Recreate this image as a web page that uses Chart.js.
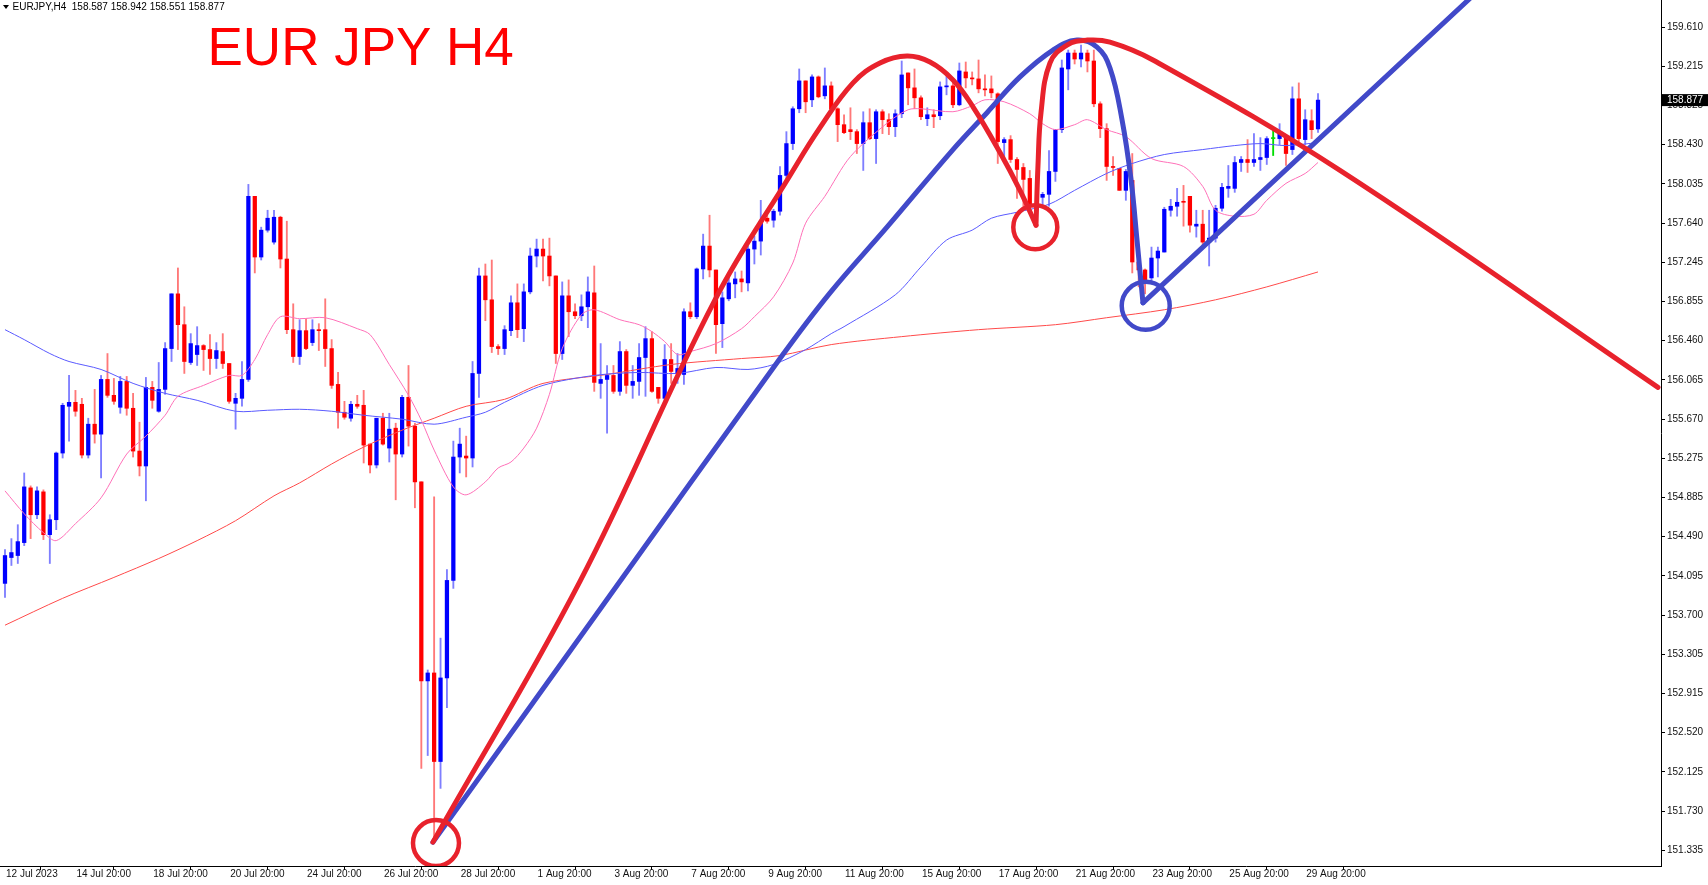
<!DOCTYPE html>
<html>
<head>
<meta charset="utf-8">
<title>EURJPY H4</title>
<script src="https://cdn.jsdelivr.net/npm/chart.js@4.4.1/dist/chart.umd.min.js"></script>
<style>
  html, body { margin: 0; padding: 0; background: #fff; }
  #wrap { width: 1708px; height: 885px; position: relative; }
</style>
</head>
<body>
<div id="wrap"><canvas id="grafico"></canvas></div>
<script>
// H4 candles, one entry per bar (bar 0 = first visible bar)
const openPrices = [
  154.02,154.28,154.30,154.43,154.98,154.71,154.94,154.51,154.66,155.33,
  155.80,155.84,155.82,155.31,155.62,155.52,156.07,155.91,155.79,156.05,
  155.78,155.35,155.20,155.99,155.75,155.97,156.38,156.93,156.62,156.24,
  156.32,156.41,156.37,156.28,156.35,156.23,155.83,155.88,156.07,157.91,
  157.30,157.57,157.45,157.70,157.28,156.57,156.30,156.56,156.44,156.57,
  156.57,156.38,156.02,155.74,155.68,155.82,155.81,155.42,155.21,155.68,
  155.38,155.58,155.32,155.89,155.60,155.04,153.04,153.12,152.23,153.07,
  154.05,155.29,155.30,155.28,156.13,157.11,156.87,156.40,156.38,156.56,
  156.84,156.58,156.95,157.31,157.38,157.31,157.11,156.33,156.91,156.75,
  156.71,156.80,156.94,156.03,156.07,156.11,155.95,156.35,156.01,156.05,
  156.29,156.48,155.99,155.88,156.27,156.13,156.12,156.75,156.70,157.18,
  157.41,157.17,156.63,156.88,157.03,157.08,157.04,157.38,157.46,157.69,
  157.67,157.76,158.12,158.44,158.79,159.07,158.88,159.11,158.92,159.02,
  158.79,158.63,158.58,158.56,158.44,158.65,158.49,158.76,158.68,158.61,
  158.74,159.15,159.00,158.90,158.69,158.73,158.72,159.01,159.02,158.83,
  159.16,159.10,159.09,158.99,158.99,158.94,158.45,158.48,158.28,158.20,
  158.09,157.81,157.90,157.93,158.16,158.58,159.19,159.35,159.29,159.35,
  159.27,158.84,158.59,158.21,158.19,157.97,158.07,157.25,157.17,157.09,
  157.29,157.35,157.77,157.81,157.86,157.91,157.61,157.63,157.45,157.49,
  157.79,157.99,157.99,158.25,158.28,158.25,158.28,158.30,158.49,158.49,
  158.51,158.38,158.89,158.48,158.67,158.587
];
const highPrices = [
  154.36,154.47,154.61,155.13,155.00,154.99,154.96,154.71,155.34,155.83,
  156.11,155.96,155.88,155.68,155.97,156.11,156.33,156.08,156.10,156.10,
  155.93,155.64,156.09,156.05,156.24,156.44,156.93,157.19,156.80,156.53,
  156.60,156.42,156.52,156.44,156.53,156.23,155.93,156.25,158.03,157.91,
  157.60,157.77,157.77,157.71,157.66,156.83,156.67,156.68,156.67,156.63,
  156.88,156.47,156.14,155.85,155.85,155.91,155.96,155.42,155.68,155.73,
  155.73,155.63,155.91,156.21,155.63,155.04,153.15,154.89,153.47,154.16,
  155.45,155.58,155.50,156.25,157.19,157.23,157.27,156.42,156.61,156.91,
  157.03,157.03,157.39,157.48,157.48,157.49,157.11,157.05,157.07,156.83,
  156.92,157.10,157.21,156.43,156.21,156.21,156.45,156.37,156.21,156.43,
  156.60,156.55,155.99,156.42,156.43,156.33,156.78,156.84,157.19,157.53,
  157.72,157.17,156.95,157.13,157.15,157.16,157.41,157.51,157.87,157.72,
  157.78,158.21,158.56,158.81,159.19,159.07,159.13,159.12,159.20,159.06,
  158.80,158.73,158.80,158.58,158.76,158.79,158.78,158.78,158.74,158.78,
  159.27,159.15,159.19,158.92,158.80,158.78,159.06,159.15,159.07,159.25,
  159.26,159.16,159.28,159.13,159.12,158.95,158.50,158.52,158.30,158.24,
  158.17,157.92,157.95,158.37,158.58,159.28,159.38,159.38,159.43,159.38,
  159.38,158.86,158.64,158.31,158.19,158.18,158.34,157.26,157.18,157.40,
  157.40,157.80,157.88,157.99,158.02,157.91,157.77,157.77,157.77,157.82,
  158.04,158.22,158.31,158.31,158.48,158.54,158.50,158.51,158.58,158.64,
  158.51,159.01,159.05,158.78,158.78,158.942
];
const lowPrices = [
  153.88,154.20,154.22,154.40,154.47,154.67,154.46,154.22,154.56,155.28,
  155.45,155.70,155.28,155.28,155.43,155.08,155.89,155.82,155.73,155.71,
  155.29,155.10,154.85,155.78,155.74,155.92,156.25,156.37,156.13,156.22,
  156.21,156.16,156.12,156.18,156.18,155.83,155.57,155.80,156.05,157.14,
  157.27,157.55,157.43,157.19,156.53,156.24,156.22,156.37,156.41,156.36,
  156.20,155.98,155.58,155.67,155.65,155.78,155.23,155.13,155.18,155.41,
  155.24,154.86,155.29,155.40,154.78,152.16,152.29,151.42,151.96,152.77,
  153.97,155.13,155.09,155.19,155.89,156.66,156.34,156.32,156.32,156.51,
  156.49,156.45,156.93,157.20,157.06,157.01,156.23,156.27,156.50,156.68,
  156.66,156.59,155.95,155.88,155.53,155.93,155.91,155.93,155.88,155.91,
  155.90,155.94,155.83,155.81,156.03,156.03,156.02,156.68,156.68,157.08,
  157.10,156.33,156.39,156.86,156.89,156.95,156.96,157.23,157.32,157.64,
  157.60,157.72,158.05,158.38,158.75,158.75,158.81,158.90,158.89,158.76,
  158.46,158.54,158.48,158.34,158.17,158.48,158.24,158.54,158.53,158.51,
  158.70,158.83,158.79,158.68,158.62,158.60,158.68,158.93,158.80,158.82,
  159.00,159.03,158.95,158.92,158.90,158.24,158.28,158.25,157.89,157.81,
  157.76,157.70,157.82,157.81,158.06,158.55,158.98,159.24,159.21,159.16,
  158.81,158.50,158.07,158.12,157.97,157.87,157.14,157.00,156.93,157.05,
  157.10,157.35,157.71,157.71,157.61,157.55,157.50,157.40,157.21,157.45,
  157.76,157.90,157.95,158.16,158.15,158.21,158.17,158.23,158.32,158.43,
  158.22,158.33,158.41,158.43,158.49,158.551
];
const closePrices = [
  154.30,154.33,154.44,154.99,154.71,154.95,154.51,154.66,155.33,155.81,
  155.84,155.75,155.31,155.62,155.52,156.07,155.91,155.85,156.05,155.78,
  155.35,155.20,155.99,155.86,155.97,156.38,156.93,156.62,156.25,156.43,
  156.41,156.37,156.28,156.36,156.23,155.85,155.88,156.07,157.91,157.30,
  157.57,157.69,157.70,157.28,156.57,156.30,156.56,156.38,156.57,156.56,
  156.38,156.01,155.74,155.69,155.82,155.80,155.41,155.21,155.68,155.42,
  155.57,155.32,155.89,155.60,155.04,153.04,153.12,152.23,153.07,154.05,
  155.29,155.42,155.28,156.13,157.11,156.87,156.40,156.38,156.57,156.84,
  156.57,156.95,157.31,157.38,157.31,157.11,156.33,156.91,156.75,156.71,
  156.80,156.95,156.04,156.07,156.11,155.95,156.35,156.01,156.05,156.29,
  156.48,155.95,155.88,156.27,156.15,156.18,156.75,156.70,157.18,157.41,
  157.17,156.62,156.89,157.04,157.08,157.05,157.38,157.46,157.66,157.66,
  157.76,158.12,158.44,158.79,159.07,158.86,159.11,158.91,159.02,158.79,
  158.63,158.55,158.56,158.44,158.65,158.49,158.76,158.68,158.61,158.74,
  159.13,159.00,158.90,158.71,158.73,158.71,159.01,159.02,158.83,159.17,
  159.10,159.09,158.99,158.98,158.95,158.46,158.48,158.28,158.18,158.08,
  157.81,157.78,157.93,158.16,158.58,159.20,159.35,159.29,159.35,159.27,
  158.84,158.59,158.21,158.20,157.97,158.16,157.25,157.17,157.07,157.29,
  157.36,157.78,157.81,157.85,157.85,157.62,157.63,157.45,157.49,157.79,
  158.00,158.01,158.25,158.28,158.25,158.28,158.30,158.49,158.49,158.54,
  158.34,158.89,158.49,158.68,158.58,158.877
];

// time axis labels and the bar each one sits on
const timeTickBars = [0, 11, 23, 35, 47, 59, 71, 83, 95, 107, 119, 131, 143, 155, 167, 179, 191, 203];
const timeTickLabels = ['12 Jul 2023', '14 Jul 20:00', '18 Jul 20:00', '20 Jul 20:00', '24 Jul 20:00',
  '26 Jul 20:00', '28 Jul 20:00', '1 Aug 20:00', '3 Aug 20:00', '7 Aug 20:00', '9 Aug 20:00',
  '11 Aug 20:00', '15 Aug 20:00', '17 Aug 20:00', '21 Aug 20:00', '23 Aug 20:00', '25 Aug 20:00', '29 Aug 20:00'];

// price axis labels
const priceTicks = [159.610, 159.215, 158.825, 158.430, 158.035, 157.640, 157.245, 156.855, 156.460,
  156.065, 155.670, 155.275, 154.885, 154.490, 154.095, 153.700, 153.305, 152.915, 152.520,
  152.125, 151.730, 151.335];

// moving averages, read as [bar, price]
const fastMa = [[0,154.95],[3,154.72],[6,154.53],[8,154.45],[11,154.62],[15,154.88],[19,155.32],
  [22,155.50],[25,155.71],[27,155.90],[31,156.01],[35,156.11],[37,156.11],[39,156.27],[41,156.52],
  [43,156.70],[46,156.68],[50,156.69],[55,156.58],[57,156.52],[60,156.22],[63,155.91],[65,155.66],
  [67,155.36],[70,154.99],[72,154.91],[75,155.04],[77,155.18],[79,155.24],[81,155.38],[83,155.58],
  [85,155.92],[87,156.38],[90,156.72],[92,156.77],[96,156.67],[99,156.62],[101,156.55],[103,156.45],
  [105,156.32],[107,156.35],[111,156.43],[115,156.58],[117,156.70],[120,156.90],[123,157.24],
  [125,157.64],[128,157.91],[132,158.31],[138,158.66],[141,158.78],[143,158.79],[148,158.76],
  [151,158.82],[153,158.88],[156,158.86],[160,158.74],[162,158.64],[164,158.58],[167,158.63],
  [169,158.68],[172,158.58],[175,158.51],[179,158.29],[184,158.21],[187,158.01],[189,157.77],
  [192,157.71],[195,157.73],[197,157.87],[200,158.04],[203,158.14],[205,158.25]];
const midMa = [[0,156.57],[3,156.47],[7,156.33],[10,156.25],[15,156.17],[20,156.03],[25,155.93],
  [30,155.86],[36,155.75],[41,155.76],[46,155.77],[51,155.75],[56,155.71],[62,155.67],[67,155.62],
  [72,155.69],[75,155.74],[78,155.84],[84,156.01],[92,156.11],[99,156.14],[105,156.13],[111,156.19],
  [116,156.17],[120,156.22],[125,156.37],[129,156.53],[131,156.60],[139,156.92],[143,157.20],
  [147,157.47],[151,157.57],[154,157.69],[158,157.75],[163,157.83],[167,157.97],[172,158.14],
  [176,158.24],[181,158.33],[187,158.38],[192,158.42],[196,158.44],[200,158.42],[205,158.45]];
const slowMa = [[0,153.60],[9,153.87],[17,154.08],[24,154.27],[30,154.45],[36,154.65],[42,154.90],
  [46,155.03],[51,155.22],[56,155.39],[62,155.56],[67,155.68],[72,155.80],[78,155.87],[84,156.03],
  [94,156.12],[104,156.22],[115,156.28],[121,156.31],[129,156.42],[140,156.50],[152,156.57],
  [164,156.62],[172,156.69],[181,156.77],[189,156.87],[197,157.00],[205,157.15]];

// hand drawn analysis, as [bar, price]
const redArcFirst = [[66.82,151.42],[89.77,154.04],[110.85,156.87],[122.56,158.12],[127.24,158.60],
  [132.40,159.05],[136.61,159.25],[140.83,159.32],[144.42,159.26],[148.01,159.08],[151.13,158.81],
  [155.35,158.35],[158.47,157.97],[160.97,157.62]];
const redArcSecond = [[160.97,157.62],[161.28,158.22],[161.75,158.75],[163.15,159.25],[165.81,159.43],
  [168.93,159.48],[172.52,159.46],[179.23,159.28],[208.43,158.17],[258.08,155.99]];
const blueArc = [[66.82,151.42],[92.90,153.76],[121.00,156.28],[128.81,156.94],[137.70,157.60],
  [148.01,158.38],[153.32,158.75],[158.47,159.11],[163.62,159.38],[167.37,159.48],[170.49,159.41],
  [172.52,159.20],[174.40,158.68],[175.80,158.08],[176.74,157.47],[177.67,156.84]];
const blueTrend = [[177.67,156.84],[233.41,160.18]];
const circleCenters = [[67.29,151.41],[160.86,157.60],[178.10,156.81]];

const toXY = pares => pares.map(([x, y]) => ({ x, y }));
const barIndex = openPrices.map((_, i) => i);
const last = openPrices.length - 1;

function bodyColor(i) {
    if (closePrices[i] > openPrices[i]) return '#0000ff';
    if (closePrices[i] < openPrices[i]) return '#ff0000';
    return '#00dd00';
}

function wickColor(i) {
    if (closePrices[i] > openPrices[i]) return 'rgba(40,40,255,0.6)';
    if (closePrices[i] < openPrices[i]) return 'rgba(255,30,30,0.6)';
    return '#00dd00';
}

const FONT = '"Liberation Sans", Arial, sans-serif';

// header, big title and the last price marker
const textPlugin = {
    id: 'textos',
    afterDraw(chart) {
        const ctx = chart.ctx;
        ctx.save();
        ctx.fillStyle = '#000';
        ctx.beginPath();
        ctx.moveTo(3, 5);
        ctx.lineTo(9, 5);
        ctx.lineTo(6, 9);
        ctx.closePath();
        ctx.fill();
        ctx.font = '10px ' + FONT;
        ctx.textBaseline = 'middle';
        const header = 'EURJPY,H4  ' + [openPrices[last], highPrices[last], lowPrices[last], closePrices[last]]
            .map(v => v.toFixed(3)).join(' ');
        ctx.fillText(header, 12.5, 7.5);

        ctx.fillStyle = '#ff0000';
        ctx.font = '53px ' + FONT;
        ctx.textBaseline = 'alphabetic';
        ctx.fillText('EUR JPY H4', 207.5, 65);

        const yScale = chart.scales.y;
        const py = yScale.getPixelForValue(closePrices[last]);
        ctx.fillStyle = '#000';
        ctx.fillRect(yScale.left + 1, py - 6, chart.width - yScale.left - 1, 12);
        ctx.fillStyle = '#fff';
        ctx.font = '10px ' + FONT;
        ctx.textBaseline = 'middle';
        ctx.fillText(closePrices[last].toFixed(3), yScale.left + 6, py + 0.5);
        ctx.restore();
    }
};

const ctx = document.getElementById('grafico').getContext('2d');
new Chart(ctx, {
    type: 'line',
    data: {
        datasets: [
            {
                type: 'bar',
                order: 10,
                grouped: false,
                data: barIndex.map(i => ({ x: i, y: [lowPrices[i], highPrices[i]] })),
                backgroundColor: c => c.dataIndex === undefined ? '#000' : wickColor(c.dataIndex),
                barThickness: 1.2,
                borderWidth: 0
            },
            {
                type: 'bar',
                order: 9,
                grouped: false,
                data: barIndex.map(i => ({ x: i, y: [openPrices[i], closePrices[i]] })),
                backgroundColor: c => c.dataIndex === undefined ? '#000' : bodyColor(c.dataIndex),
                barThickness: 3.6,
                minBarLength: 1,
                borderWidth: 0
            },
            { data: toXY(slowMa), borderColor: '#ff4a4a', borderWidth: 1, pointRadius: 0, tension: 0.3, order: 8 },
            { data: toXY(midMa), borderColor: '#5a5aff', borderWidth: 1, pointRadius: 0, tension: 0.3, order: 7 },
            { data: toXY(fastMa), borderColor: '#ff70b8', borderWidth: 1, pointRadius: 0, tension: 0.3, order: 6 },
            { data: toXY(blueArc), borderColor: '#4149c9', borderWidth: 5, pointRadius: 0, tension: 0.4, order: 3, borderCapStyle: 'round' },
            { data: toXY(blueTrend), borderColor: '#4149c9', borderWidth: 5, pointRadius: 0, order: 3, borderCapStyle: 'round' },
            { data: toXY(redArcFirst), borderColor: '#e8222c', borderWidth: 5, pointRadius: 0, tension: 0.4, order: 2, borderCapStyle: 'round' },
            { data: toXY(redArcSecond), borderColor: '#e8222c', borderWidth: 5, pointRadius: 0, tension: 0.4, order: 2, borderCapStyle: 'round' },
            {
                data: toXY(circleCenters),
                showLine: false,
                order: 1,
                pointRadius: [23, 22, 24],
                pointBorderWidth: 4.5,
                pointBackgroundColor: 'rgba(0,0,0,0)',
                pointBorderColor: ['#e8222c', '#e8222c', '#4149c9']
            }
        ]
    },
    options: {
        responsive: true,
        maintainAspectRatio: false,
        animation: false,
        events: [],
        layout: { padding: 0, autoPadding: false },
        plugins: {
            legend: { display: false },
            tooltip: { enabled: false }
        },
        scales: {
            x: {
                type: 'linear',
                min: -0.78,
                max: 258.55,
                offset: false,
                grid: { drawOnChartArea: false, tickLength: 4, color: '#000' },
                border: { color: '#000' },
                ticks: {
                    align: 'start',
                    maxRotation: 0,
                    autoSkip: false,
                    padding: -2,
                    labelOffset: 1,
                    color: '#111',
                    font: { family: FONT, size: 10 },
                    callback: (value, index) => timeTickLabels[index]
                },
                afterBuildTicks: scale => { scale.ticks = timeTickBars.map(v => ({ value: v })); },
                afterFit: scale => {
                    scale.height = 19;
                    scale.paddingLeft = 0;
                    scale.paddingRight = 0;
                }
            },
            y: {
                type: 'linear',
                position: 'right',
                min: 151.18,
                max: 159.883,
                grid: { drawOnChartArea: false, tickLength: 4, color: '#000' },
                border: { color: '#000' },
                ticks: {
                    autoSkip: false,
                    padding: 2,
                    color: '#111',
                    font: { family: FONT, size: 10 },
                    callback: value => value.toFixed(3)
                },
                afterBuildTicks: scale => { scale.ticks = priceTicks.map(v => ({ value: v })); },
                afterFit: scale => {
                    scale.width = 47;
                    scale.paddingTop = 0;
                    scale.paddingBottom = 0;
                }
            }
        }
    },
    plugins: [textPlugin]
});
</script>
</body>
</html>
